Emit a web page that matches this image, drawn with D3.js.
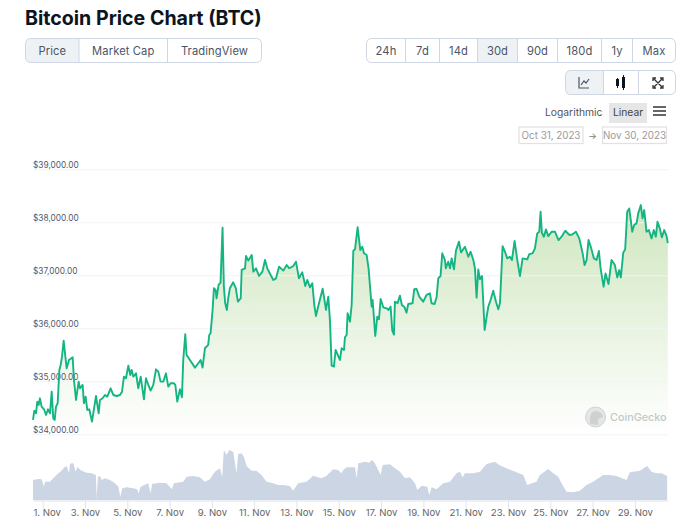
<!DOCTYPE html>
<html>
<head>
<meta charset="utf-8">
<script src="https://d3js.org/d3.v7.min.js"></script>
<style>
  html, body { margin: 0; padding: 0; background: #fff; }
  svg { display: block; font-family: Inter, "Noto Sans", sans-serif; }
</style>
</head>
<body>
<div id="chart"></div>
<script>
// hours since Oct 31 13:00
var priceHours = [
  0,1.5,3.4,4.9,6.4,7.9,9.8,12.5,14.8,17,
  19.3,21.2,23,24.6,26.1,28,29.9,31.4,32.9,34.8,
  36.7,38.2,40.8,45,46.5,48.8,51.8,53.3,56.3,57.8,
  59.7,61.6,63.9,66.9,68.4,71.5,74.5,76,79,81.7,
  84.3,88.1,91.1,94.9,98.7,101,103.2,105.5,108.2,110.4,
  111.9,113.8,116.9,119.5,122.2,125.9,128.2,130.9,133.5,136.5,
  139.6,142.2,144.8,147.9,150.9,153.5,156.2,160,161.5,163.7,
  166.8,169,170.5,172.8,174.3,178.1,183.8,187.6,190.2,192.4,
  195.1,198.8,200,201.5,203.8,205.3,207.2,208.3,210.6,212.8,
  215.1,216.6,218.1,220,221.5,223.4,227.2,230.2,232.5,235.7,
  236.8,240.6,241.7,244.4,248.2,250,253.1,256.5,260.3,263.3,
  265.9,269.7,272.7,275.8,279.2,284.1,287.9,290.9,295.4,298.4,
  301.8,305.6,309,311.3,314.3,317,319.2,321.1,323.8,328.7,
  332.5,335.1,337,338.9,341.5,343.4,348.3,350.2,352.9,354,
  355.9,357,359.7,361.6,363.5,365.4,368.4,371.4,373.7,375.6,
  378.6,380.8,384.3,385.4,388.4,390.7,392.6,394.5,397.5,401.3,
  403.5,405.8,407.7,409.6,410.7,413.7,416.4,418.6,421.7,423.9,
  425.8,430.7,432.6,435.3,438.3,442.8,446.6,450.4,452.3,455.7,
  458,459.9,462.5,464.4,467.4,468.5,471.2,473.2,475.1,477.7,
  480,483.4,485.7,490.2,494,496.6,499.7,501.5,503.4,505.3,
  507.2,509.5,512.5,514.8,516.7,519.3,522.3,525.4,528,529.9,
  532.9,535.6,538.2,541.2,543.5,546.5,549.6,552.6,555.6,560.9,
  563.2,566.9,569.6,572.2,574.5,576,577.5,579.8,582.1,584.7,
  588.5,592.3,596.4,599.8,604,608.5,611.5,616.1,619.9,623.6,
  625.9,628.2,630.4,633.5,636.5,639.5,642.2,644.1,647.5,649.7,
  653.1,656.5,660.3,663,665.2,667.1,669.8,672,674.3,676.6,
  678.1,680,682.2,684.9,686.8,689.8,691.7,693.6,696.2,698.9,
  701.9,704.5,706.8,708.7,711.3,713.6,716.3,718.9,720.4
];
var priceValues = [
  34270,34447,34396,34616,34553,34679,34522,34472,34365,34472,
  34396,34805,34302,34270,34522,34585,35214,35308,35465,35767,
  35465,35245,35402,35453,35025,34648,34994,34868,34931,34585,
  34711,34459,34472,34239,34396,34723,34396,34648,34679,34742,
  34711,34868,34742,34723,34742,34805,35088,35057,35296,35119,
  35214,35088,35151,34868,35088,34660,35057,34931,34824,34931,
  35226,35182,34994,34994,35151,34899,34962,34962,34931,34616,
  34849,34698,35402,35887,35497,35402,35258,35340,35402,35258,
  35623,35686,35874,35906,36346,36755,36723,36566,36818,36862,
  37899,36786,36472,36346,36566,36755,36868,36755,36503,36566,
  37101,37132,37365,37277,37384,37069,37132,36987,37069,37290,
  37132,37006,36912,36943,37163,37088,37195,37132,37176,37258,
  36943,37056,36799,36912,36773,36849,36440,36233,36421,36748,
  36346,36597,36145,35296,35277,35591,35402,35623,35591,35830,
  35874,36283,36126,36440,37465,37490,37906,37478,37541,37415,
  37384,37132,36409,36534,35855,36220,36170,36553,36396,36377,
  36346,36409,35956,35881,36503,36472,36616,36440,36396,36295,
  36459,36472,36736,36742,36597,36503,36629,36660,36472,36459,
  36585,36943,36987,37415,37290,37132,37258,37131,37319,37112,
  37465,37635,37432,37539,37350,37444,37288,37131,36578,37112,
  36924,36986,35968,36219,36408,36534,36710,36502,36358,36471,
  37551,37444,37319,37350,37288,37647,37288,36986,37319,37300,
  37400,37413,37507,37790,37821,38198,37803,37728,37867,37740,
  37822,37822,37665,37728,37841,37765,37765,37822,37696,37426,
  37193,37288,37665,37508,37319,37288,37458,37131,36785,37036,
  36835,37288,37193,36960,37099,36960,37426,37489,38199,38262,
  38074,37822,37948,37980,38168,38325,38074,38231,37822,37853,
  37696,37853,37728,38011,37885,37715,37853,37745,37608
];
var volumeHours = [
  0,6,9.8,12.5,13.6,19.3,23,28.7,32.5,35.5,
  38.2,40.8,42,43.8,45.7,48.4,50.3,55.2,60.9,66.5,
  71.4,72.2,73.7,76,77.9,81.6,87.3,93,96.8,99,
  101.3,106.2,113.8,118.3,119.8,122.1,130.8,133.4,135.3,144,
  151.6,157.6,159.9,170.5,174.3,181.8,189.4,195,200.7,206.4,
  212,214.7,216.6,219.6,222.6,227.2,231,232.8,236.6,239.3,
  242.3,248,253.6,259.3,265,272.5,278.2,283.9,291.4,295.2,
  300.9,310.3,317.9,327.3,333,340.6,346.2,350,352.7,356,
  365.4,367.3,369.2,376.7,381.7,384.3,387,390,394.5,396.8,
  405.1,410.8,416.4,422.1,427.8,433.5,436.1,441,447.4,449.7,
  452.4,458,465.6,473.1,480.7,484.5,487.5,490.2,499.6,507.2,
  514.7,524.2,529.1,537.4,548.7,556.3,560.8,565.8,571.4,575.2,
  584.7,590.3,596,600.9,605.4,613,620.6,628.1,635.7,647,
  654.6,662.1,673.5,677.3,688.6,696.9,701.8,707.5,713.2,719.6
];
var volumeValues = [
  20,21,20.7,13.3,18.3,18.3,21.7,26.7,29.3,32.7,
  34,26.7,36,36.7,36.7,28.3,32.7,29.3,27.3,26.7,
  25,2,23.3,24,20,21.7,20,16.7,13.3,3.3,
  11.7,12.7,11.7,10.7,6.7,13.3,16.7,6.7,16,17.3,
  16.7,10.7,16.7,18.3,23.3,24,22.7,18.3,20.7,28.3,
  31.7,23.3,50,45,50,48.3,26.7,46,46.7,43.3,
  34,29.3,29.3,25,18.3,16.7,15,15,14,9.3,
  16.7,18.3,24.3,21.7,24,30.7,30,26.7,30.7,32.7,
  32.7,21.7,36.7,38.3,37.3,40,38.3,33.3,25,35,
  35.7,31.7,28.3,21.7,22.7,16.7,10,14.3,13.3,5,
  12.7,10.7,16.7,18.3,26.7,28.3,22.7,26.7,26.7,28.3,
  36,38.3,35,31.7,27.7,25,15,16.7,18.3,25,
  31,26.7,23.3,15,8.3,7.7,9.3,15,18.3,25,
  25,24,20,27.7,29.3,34,28.3,26.7,26.7,24
];
var yTicks = [34000, 35000, 36000, 37000, 38000, 39000];
var xTickDays = [1, 3, 5, 7, 9, 11, 13, 15, 17, 19, 21, 23, 25, 27, 29];
var chartTabs = ["Price", "Market Cap", "TradingView"];
var rangeTabs = ["24h", "7d", "14d", "30d", "90d", "180d", "1y", "Max"];

var width = 684, height = 528;
var left = 33, right = 668;
var startTime = new Date(2023, 9, 31, 13);
function toDate(h) { return new Date(startTime.getTime() + h * 3600000); }

var svg = d3.select("#chart").append("svg")
  .attr("width", width)
  .attr("height", height);

var x = d3.scaleTime()
  .domain([toDate(0), toDate(720.6)])
  .range([left, right]);
var y = d3.scaleLinear()
  .domain([34000, 39000])
  .range([434.3, 169.3]);
var yVol = d3.scaleLinear()
  .domain([0, 51])
  .range([500, 449]);

// header
svg.append("text")
  .attr("x", 25).attr("y", 25)
  .attr("font-size", 19.6).attr("font-weight", 700)
  .attr("fill", "#0d1421")
  .text("Bitcoin Price Chart (BTC)");

function buttonGroup(edges, top, h, active) {
  var g = svg.append("g");
  var x0 = edges[0], x1 = edges[edges.length - 1];
  if (active >= 0) {
    g.append("path")
      .attr("fill", "#eff2f5")
      .attr("d", active === 0
        ? "M" + edges[1] + "," + top + "H" + (x0 + 5) + "Q" + x0 + "," + top + " " + x0 + "," + (top + 5) +
          "V" + (top + h - 5) + "Q" + x0 + "," + (top + h) + " " + (x0 + 5) + "," + (top + h) + "H" + edges[1] + "Z"
        : "M" + edges[active] + "," + top + "H" + edges[active + 1] + "V" + (top + h) + "H" + edges[active] + "Z");
  }
  g.append("rect")
    .attr("x", x0).attr("y", top)
    .attr("width", x1 - x0).attr("height", h)
    .attr("rx", 5)
    .attr("fill", "none")
    .attr("stroke", "#cfd6e4");
  g.selectAll("line").data(edges.slice(1, -1)).enter().append("line")
    .attr("x1", function(d) { return d; }).attr("x2", function(d) { return d; })
    .attr("y1", top).attr("y2", top + h)
    .attr("stroke", "#cfd6e4");
  return g;
}

function tabLabels(g, labels, edges, top) {
  g.selectAll("text").data(labels).enter().append("text")
    .attr("x", function(d, i) { return (edges[i] + edges[i + 1]) / 2; })
    .attr("y", top)
    .attr("text-anchor", "middle")
    .attr("font-size", 11.2)
    .attr("letter-spacing", 0.1)
    .attr("fill", "#4a5568")
    .text(function(d) { return d; });
}

var chartEdges = [25.5, 79, 167.5, 261.5];
tabLabels(buttonGroup(chartEdges, 38.5, 24, 0), chartTabs, chartEdges, 55);

var rangeEdges = [366.5, 405.5, 439.5, 477.5, 517.5, 557.5, 601.5, 632.5, 675.5];
tabLabels(buttonGroup(rangeEdges, 38.5, 24, 3), rangeTabs, rangeEdges, 55);

// chart type buttons
buttonGroup([565.5, 603.5, 638.5, 675.5], 70.5, 24, 0);
svg.append("path")
  .attr("fill", "none").attr("stroke", "#4a5568").attr("stroke-width", 1.2)
  .attr("d", "M579,77V88H589M581,85L584,81L586,83L589,79");
svg.append("path")
  .attr("fill", "#0d1421")
  .attr("d", "M616,79h3v7h-3zM622,77h3v11h-3z");
svg.append("path")
  .attr("fill", "none").attr("stroke", "#0d1421").attr("stroke-width", 1)
  .attr("d", "M617.5,78v10M623.5,75v15");
svg.append("path")
  .attr("fill", "none").attr("stroke", "#333").attr("stroke-width", 1.3)
  .attr("d", "M653,81V78H656M660,78H663V81M663,85V88H660M656,88H653V85M654,79L662,87M662,79L654,87");

// log/linear row
svg.append("text")
  .attr("x", 602.5).attr("y", 116)
  .attr("text-anchor", "end").attr("font-size", 10.3)
  .attr("fill", "#555").text("Logarithmic");
svg.append("rect")
  .attr("x", 609).attr("y", 103)
  .attr("width", 38).attr("height", 20)
  .attr("fill", "#e6e6e6");
svg.append("text")
  .attr("x", 628).attr("y", 116)
  .attr("text-anchor", "middle").attr("font-size", 10.3)
  .attr("fill", "#444").text("Linear");
svg.selectAll(".menu").data([0, 1, 2]).enter().append("rect")
  .attr("class", "menu")
  .attr("x", 653).attr("y", function(d) { return 106 + d * 4; })
  .attr("width", 13).attr("height", 2)
  .attr("fill", "#666");

// date inputs
[[519, "Oct 31, 2023"], [602.5, "Nov 30, 2023"]].forEach(function(d) {
  svg.append("rect")
    .attr("x", d[0]).attr("y", 127)
    .attr("width", 64).attr("height", 16.5)
    .attr("fill", "#fff")
    .attr("stroke", "#e2e2e2").attr("stroke-width", 1.2);
  svg.append("text")
    .attr("x", d[0] + 32).attr("y", 138.5)
    .attr("text-anchor", "middle").attr("font-size", 9.8)
    .attr("fill", "#9a9a9a").text(d[1]);
});
svg.append("text")
  .attr("x", 592.5).attr("y", 139)
  .attr("text-anchor", "middle").attr("font-size", 9)
  .attr("fill", "#777").text("→");

// price area
var defs = svg.append("defs");
var grad = defs.append("linearGradient")
  .attr("id", "priceFill")
  .attr("x1", 0).attr("x2", 0).attr("y1", 0).attr("y2", 1);
grad.append("stop").attr("offset", "0%").attr("stop-color", "#cfe6bf");
grad.append("stop").attr("offset", "100%").attr("stop-color", "#ffffff");

var prices = priceHours.map(function(h, i) { return {t: toDate(h), v: priceValues[i]}; });
svg.append("path")
  .datum(prices)
  .attr("fill", "url(#priceFill)")
  .attr("d", d3.area()
    .x(function(d) { return x(d.t); })
    .y0(y(34000))
    .y1(function(d) { return y(d.v); }));

// grid and y labels
var yAxis = svg.append("g")
  .attr("transform", "translate(" + left + ",0)")
  .call(d3.axisRight(y)
    .tickValues(yTicks)
    .tickSize(right - left)
    .tickFormat(d3.format("$,.2f")));
yAxis.select(".domain").remove();
yAxis.selectAll("line").attr("stroke", "#f2f3f8");
yAxis.selectAll("text")
  .attr("x", 0).attr("y", 0).attr("dy", -2)
  .attr("font-family", "Inter, sans-serif")
  .attr("font-size", 8.3)
  .attr("fill", "#4f5a6e");

// watermark
svg.append("circle")
  .attr("cx", 595.5).attr("cy", 417).attr("r", 10)
  .attr("fill", "#e4e5e6").attr("stroke", "#d2d3d5");
svg.append("path")
  .attr("fill", "#cfd0d2")
  .attr("d", "M590,424Q589,411 596,411Q603,412 603,417L598,419L598,425Z");
svg.append("text")
  .attr("x", 610).attr("y", 421)
  .attr("font-size", 10.8).attr("font-weight", 500)
  .attr("fill", "#c4c7ca").text("CoinGecko");

svg.append("path")
  .datum(prices)
  .attr("fill", "none")
  .attr("stroke", "#14b583")
  .attr("stroke-width", 1.9)
  .attr("stroke-linejoin", "round")
  .attr("d", d3.line()
    .x(function(d) { return x(d.t); })
    .y(function(d) { return y(d.v); }));

// volume
var volumes = volumeHours.map(function(h, i) { return {t: toDate(h), v: volumeValues[i]}; });
svg.append("path")
  .datum(volumes)
  .attr("fill", "#ccd5e3")
  .attr("d", d3.area()
    .x(function(d) { return x(d.t); })
    .y0(yVol(0))
    .y1(function(d) { return yVol(d.v); }));

// x axis
var xAxis = svg.append("g")
  .attr("transform", "translate(0,500.5)")
  .call(d3.axisBottom(x)
    .tickValues(xTickDays.map(function(d) { return new Date(2023, 10, d); }))
    .tickSize(8)
    .tickSizeOuter(0)
    .tickFormat(function(d) { return d.getDate() + ". Nov"; }));
xAxis.select(".domain").attr("stroke", "#e6ebf5").attr("stroke-width", 1.5);
xAxis.selectAll("line").attr("stroke", "#dfe5f0");
xAxis.selectAll("text")
  .attr("y", 9)
  .attr("font-family", "Inter, sans-serif")
  .attr("font-size", 9.6)
  .attr("fill", "#666");
xAxis.select(".tick text").attr("dx", 4);
</script>
</body>
</html>
